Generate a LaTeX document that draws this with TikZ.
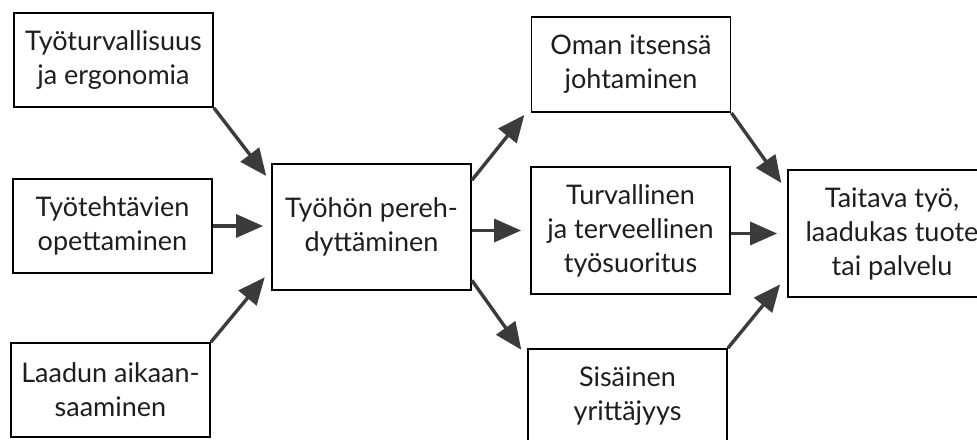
\documentclass[tikz,border=0pt]{standalone}
\usepackage{fontspec}
\setmainfont{Lato}
\usetikzlibrary{arrows.meta,positioning}
\definecolor{arrowgray}{RGB}{58,60,60}
\definecolor{textgray}{RGB}{30,30,30}
\tikzset{
  box/.style={draw=black,line width=1.8pt,fill=white,align=center,text=textgray,
    font=\fontsize{27}{34}\selectfont,inner sep=0pt,minimum width=199pt},
  flow/.style={draw=arrowgray,line width=3.4pt,-{Triangle[length=27pt,width=23pt]}}
}

\begin{document}
\begin{tikzpicture}[x=1pt,y=-1pt]
  \useasboundingbox (0,0) rectangle (977,439);
  \clip (0,0) rectangle (977,439);
  \fill[white] (-20,-20) rectangle (1000,460);
  % left column
  \node[box,minimum height=94pt] (turva) at (113.5,60) {Työturvallisuus\\ja ergonomia};
  \node[box,minimum height=94pt] (tehtavat) at (112.5,226) {Työtehtävien\\opettaminen};
  \node[box,minimum height=94pt] (laatu) at (110.5,390) {Laadun aikaan-\\saaminen};
  % middle
  \node[box,minimum height=126pt] (perehd) at (371.5,227) {Työhön pereh-\\dyttäminen};
  % right column
  \node[box,minimum height=95pt] (oman) at (631,64.5) {Oman itsensä\\johtaminen};
  \node[box,minimum height=127pt] (turv) at (630.5,230.5) {Turvallinen\\ja terveellinen\\työsuoritus};
  \node[box,minimum height=95pt] (sis) at (627.5,396.5) {Sisäinen\\yrittäjyys};
  \node[box,minimum width=208pt,minimum height=127pt] (taitava) at (892,233.5) {Taitava työ,\\laadukas tuote\\tai palvelu};

  \foreach \from/\to/\s in {turva.south east/perehd.156/8pt, laatu.north east/perehd.203/10pt,
                            perehd.25/oman.203/10pt, perehd.332/sis.159/10pt,
                            oman.south east/taitava.158/10pt, sis.north east/taitava.202/11pt}
    \draw[flow,shorten >=\s] (\from) -- (\to);
  \draw[flow,shorten >=8pt] (tehtavat.east) -- (tehtavat.east -| perehd.west);
  \draw[flow,shorten >=9pt] (perehd.east |- turv.west) -- (turv.west);
  \draw[flow,shorten >=10pt] (turv.east |- taitava.west) -- (taitava.west);
\end{tikzpicture}
\end{document}
